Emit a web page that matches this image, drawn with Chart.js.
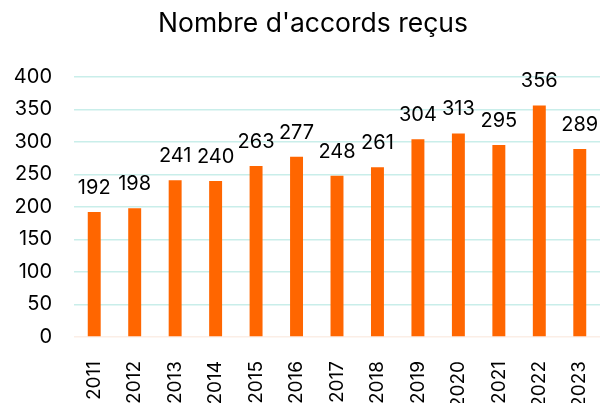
<!DOCTYPE html>
<html>
<head>
<meta charset="utf-8">
<script src="https://cdn.jsdelivr.net/npm/chart.js@4"></script>
<style>
  html, body { margin: 0; padding: 0; background: #fff; }
  #wrap { width: 600px; height: 403px; }
</style>
</head>
<body>
<div id="wrap"><canvas id="accords"></canvas></div>
<script>
const years = ['2011', '2012', '2013', '2014', '2015', '2016', '2017', '2018', '2019', '2020', '2021', '2022', '2023'];
const accords = [192, 198, 241, 240, 263, 277, 248, 261, 304, 313, 295, 356, 289];
const yTicks = [0, 50, 100, 150, 200, 250, 300, 350, 400];

const fontFamily = "Inter, 'Liberation Sans', Arial, sans-serif";

// value labels above each bar
const valueLabels = {
    id: 'valueLabels',
    afterLayout(chart) {
        // title is centred a bit left of the plot, like the original
        chart.titleBlock.left = 26;
    },
    afterDatasetsDraw(chart) {
        const ctx = chart.ctx;
        const meta = chart.getDatasetMeta(0);
        ctx.save();
        ctx.font = '20px ' + fontFamily;
        ctx.fillStyle = '#000';
        ctx.textAlign = 'center';
        ctx.textBaseline = 'middle';
        meta.data.forEach((bar, i) => {
            ctx.fillText(String(accords[i]), bar.x, bar.y - 24);
        });
        ctx.restore();
    }
};

new Chart(document.getElementById('accords'), {
    type: 'bar',
    data: {
        labels: years,
        datasets: [{
            data: accords,
            backgroundColor: '#FF6600',
            categoryPercentage: 1,
            barPercentage: 0.32
        }]
    },
    options: {
        responsive: true,
        maintainAspectRatio: false,
        animation: false,
        layout: { padding: 0 },
        plugins: {
            legend: { display: false },
            tooltip: { enabled: false },
            title: {
                display: true,
                text: "Nombre d'accords reçus",
                color: '#000',
                font: { family: fontFamily, size: 26.5, weight: 'normal' },
                padding: { top: 8, bottom: 37 }
            }
        },
        scales: {
            x: {
                afterFit(scale) {
                    scale.height = 66;
                    scale.paddingLeft = 0;
                    scale.paddingRight = 0;
                },
                grid: { display: false },
                border: { display: false },
                ticks: {
                    color: '#000',
                    font: { family: fontFamily, size: 19 },
                    minRotation: 90,
                    maxRotation: 90,
                    padding: 16
                }
            },
            y: {
                min: 0,
                max: 400,
                afterFit(scale) { scale.width = 74; },
                afterBuildTicks(scale) { scale.ticks = yTicks.map(v => ({ value: v })); },
                grid: {
                    color: ctx => ctx.tick && ctx.tick.value === 0 ? '#fbeee6' : '#c9eeea',
                    lineWidth: 1.5,
                    drawTicks: false
                },
                border: { display: false },
                ticks: {
                    color: '#000',
                    font: { family: fontFamily, size: 20 },
                    padding: 22
                }
            }
        }
    },
    plugins: [valueLabels]
});
</script>
</body>
</html>
